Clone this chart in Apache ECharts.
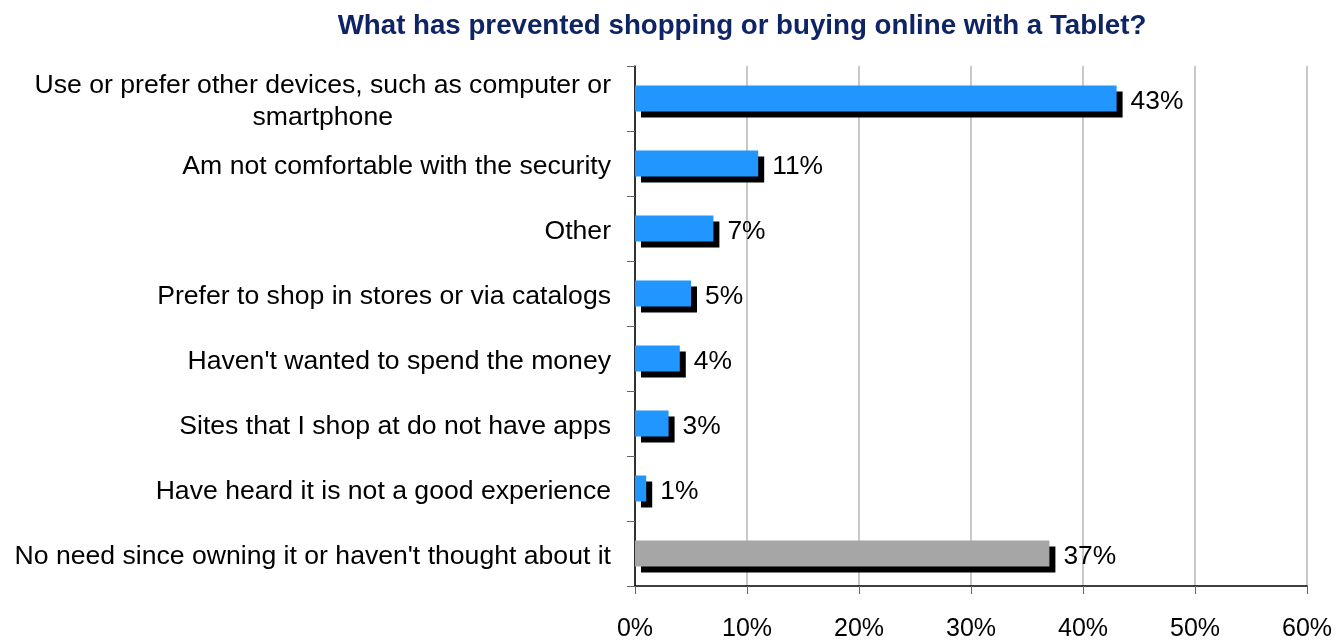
<!DOCTYPE html>
<html>
<head>
<meta charset="utf-8">
<script src="https://cdn.jsdelivr.net/npm/echarts@6/dist/echarts.min.js"></script>
<style>
  html, body { margin: 0; padding: 0; background: #ffffff; }
  #chart { width: 1337px; height: 642px; }
</style>
</head>
<body>
<div id="chart"></div>
<script>
// Survey answers, top to bottom
const categories = [
  'Use or prefer other devices, such as computer or\nsmartphone',
  'Am not comfortable with the security',
  'Other',
  'Prefer to shop in stores or via catalogs',
  "Haven't wanted to spend the money",
  'Sites that I shop at do not have apps',
  'Have heard it is not a good experience',
  "No need since owning it or haven't thought about it"
];
const values = [43, 11, 7, 5, 4, 3, 1, 37];
const barColors = ['#2196FF', '#2196FF', '#2196FF', '#2196FF', '#2196FF', '#2196FF', '#2196FF', '#A6A6A6'];
const xTicks = [0, 10, 20, 30, 40, 50, 60];

const FONT = '"Liberation Sans", Arial, sans-serif';

const chart = echarts.init(document.getElementById('chart'), null, { renderer: 'canvas' });

chart.setOption({
  backgroundColor: '#ffffff',
  animation: false,
  title: {
    text: 'What has prevented shopping or buying online with a Tablet?',
    left: 737,
    textAlign: 'center',
    top: 7,
    textStyle: { color: '#0F2465', fontFamily: FONT, fontWeight: 'bold', fontSize: 27.7 }
  },
  grid: { left: 635, right: 30, top: 66, bottom: 54, containLabel: false },
  xAxis: {
    type: 'value',
    min: xTicks[0],
    max: xTicks[xTicks.length - 1],
    interval: 10,
    axisLine: { show: true, lineStyle: { color: '#000000', width: 1.5 } },
    axisTick: { show: true, length: 8, lineStyle: { color: '#666666', width: 1 } },
    axisLabel: {
      margin: 31,
      color: '#000000',
      fontFamily: FONT,
      fontSize: 25,
      formatter: v => v + '%'
    },
    splitLine: { show: true, lineStyle: { color: '#C8C8C8', width: 2 } }
  },
  yAxis: {
    type: 'category',
    inverse: true,
    data: categories,
    axisLine: { show: true, lineStyle: { color: '#000000', width: 1.5 } },
    axisTick: { show: true, length: 8, inside: false, lineStyle: { color: '#666666', width: 1 } },
    axisLabel: {
      margin: 24,
      padding: [6, 0, 0, 0],
      color: '#000000',
      fontFamily: FONT,
      fontSize: 26.6,
      lineHeight: 32,
      formatter: v => v.indexOf('\n') >= 0
        ? v.split('\n').map(s => '{c|' + s + '}').join('\n')
        : v,
      rich: {
        c: { align: 'center', fontFamily: FONT, fontSize: 26.6, lineHeight: 32, color: '#000000' }
      }
    }
  },
  series: [{
    type: 'bar',
    barWidth: 26,
    data: values.map((v, i) => ({
      value: v,
      itemStyle: { color: barColors[i] }
    })),
    itemStyle: {
      shadowColor: '#000000',
      shadowBlur: 0,
      shadowOffsetX: 6,
      shadowOffsetY: 6
    },
    label: {
      show: true,
      position: 'right',
      distance: 14,
      offset: [0, 3],
      color: '#000000',
      fontFamily: FONT,
      fontSize: 26.4,
      formatter: p => p.value + '%'
    }
  }]
});
</script>
</body>
</html>
